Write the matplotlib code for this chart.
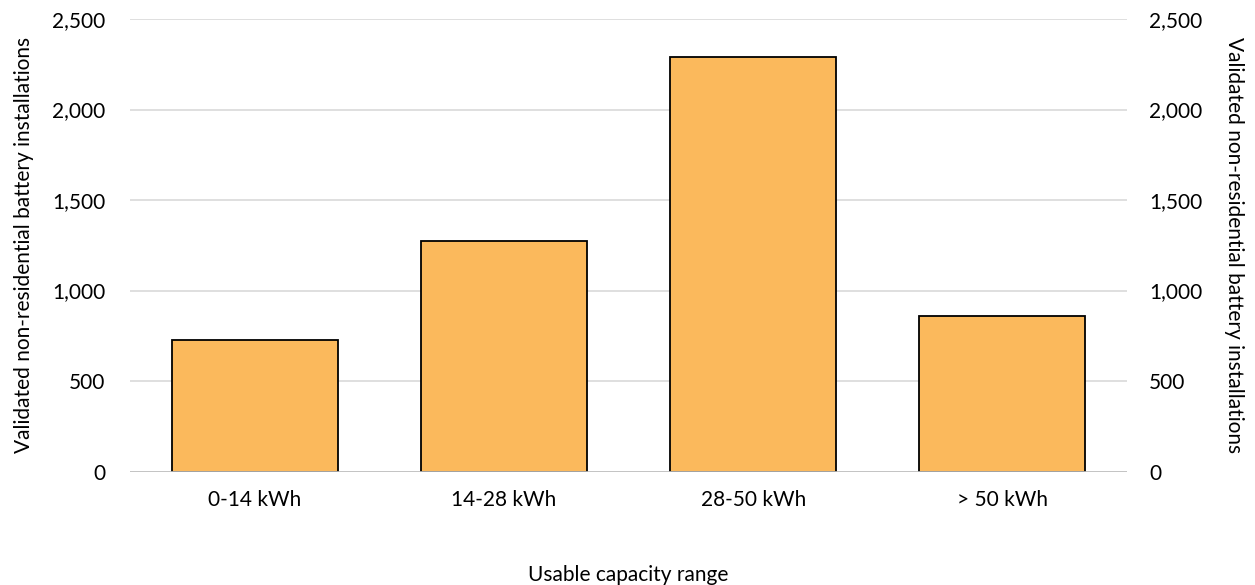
import matplotlib.pyplot as plt
import numpy as np

plt.rcParams['font.family'] = ['Lato', 'DejaVu Sans']

categories = ["0-14 kWh", "14-28 kWh", "28-50 kWh", "> 50 kWh"]
installations = [725, 1272, 2292, 858]
yticks = [0, 500, 1000, 1500, 2000, 2500]
ylabel = "Validated non-residential battery installations"
fs = 15

fig = plt.figure(figsize=(12.55, 5.85), dpi=100)
ax = fig.add_axes([0.1036, 0.194, 0.7944, 0.7735])

x = np.arange(len(categories))
ax.bar(x, installations, width=0.665, color="#FBB95C", edgecolor="black",
       linewidth=1.3, zorder=3)

ax.set_xlim(-0.5, len(categories) - 0.5)
ax.set_ylim(0, 2500)
ax.set_yticks(yticks)
ax.set_yticklabels([f"{v:,}" for v in yticks])
ax.set_xticks(x)
ax.set_xticklabels(categories)
ax.grid(axis="y", color="#d9d9d9", linewidth=1.2, zorder=0)
ax.axhline(0, color="#bfbfbf", linewidth=1.2, zorder=4)

for side in ["top", "right", "left", "bottom"]:
    ax.spines[side].set_visible(False)
ax.tick_params(axis="both", length=0, labelsize=fs, colors="black")
ax.tick_params(axis="y", pad=18)
ax.tick_params(axis="x", pad=13)

ax.set_xlabel("Usable capacity range", fontsize=fs, labelpad=40)
ax.set_ylabel(ylabel, fontsize=fs, labelpad=13)

# mirrored axis on the right
ax2 = ax.twinx()
ax2.set_ylim(ax.get_ylim())
ax2.set_yticks(yticks)
ax2.set_yticklabels([f"{v:,}" for v in yticks])
for side in ["top", "right", "left", "bottom"]:
    ax2.spines[side].set_visible(False)
ax2.tick_params(axis="y", length=0, labelsize=fs, pad=16)
ax2.set_ylabel(ylabel, fontsize=fs, rotation=270, labelpad=30)

fig.savefig("out.png", dpi=100)
